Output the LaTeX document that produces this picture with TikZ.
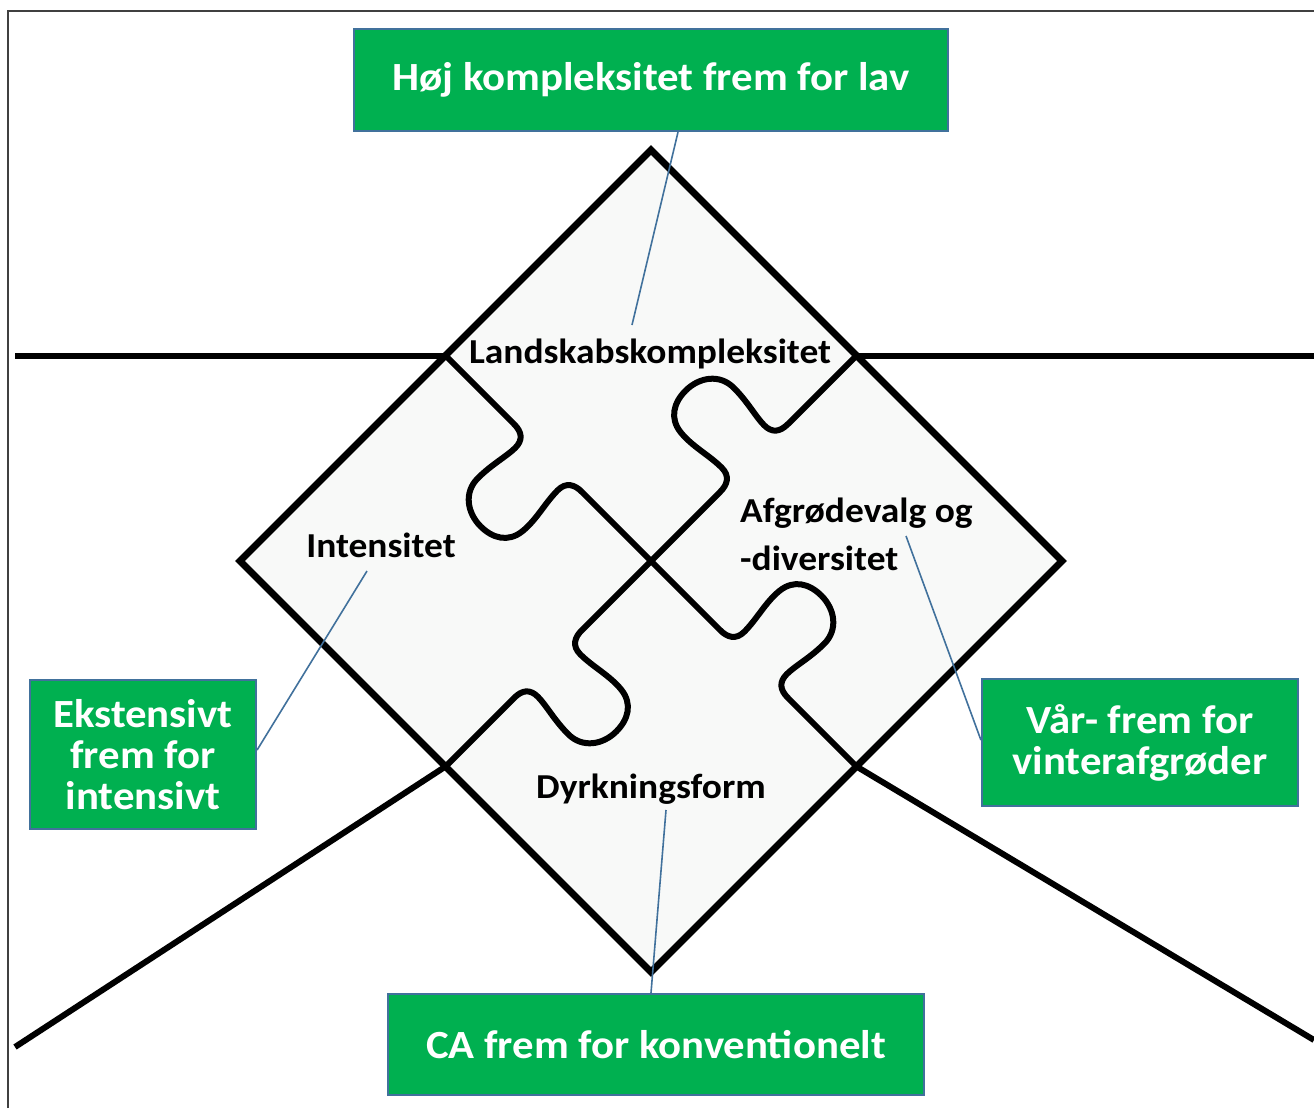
\documentclass[tikz,border=0pt]{standalone}
\usepackage{fontspec}
\setmainfont{Carlito}[FakeStretch=1.07]
\usetikzlibrary{calc}
\definecolor{boxgreen}{HTML}{00B050}
\definecolor{boxblue}{HTML}{41719C}
\definecolor{piecefill}{HTML}{F8F9F8}
\newcommand\seamhalf[1]{%
  \begin{scope}[shift={(C)},rotate=#1]
    \draw[seam] (0,0) -- (98,0) .. controls (108,0) and (116,4) .. (116,16)
      .. controls (116,34) and (110,52) .. (112,70)
      .. controls (114,88) and (128,96) .. (145,96)
      .. controls (164,96) and (181,84) .. (181,64)
      .. controls (181,44) and (176,28) .. (176,16)
      .. controls (176,5) and (182,0) .. (194,0)
      -- (291,0);
  \end{scope}}
\begin{document}
\begin{tikzpicture}[x=1pt,y=1pt,
  thickline/.style={line width=6pt},
  seam/.style={line width=6pt, line join=round, line cap=round},
  greenbox/.style={draw=boxblue, line width=2.2pt, fill=boxgreen, text=white,
    font=\fontsize{40}{41}\selectfont\bfseries, align=center, inner sep=0pt},
  conn/.style={draw=boxblue, line width=1.6pt},
  plabel/.style={font=\fontsize{35}{48}\selectfont\bfseries, inner sep=0pt}]
\useasboundingbox (0,0) rectangle (1314,-1108);
\fill[white] (0,0) rectangle (1314,-1108);
% frame
\draw[line width=2pt, black!75] (8,-1108) -- (8,-11) -- (1314,-11);
% diamond geometry
\coordinate (C) at (651,-561);
\coordinate (T) at (651,-150);
\coordinate (R) at (1062,-561);
\coordinate (B) at (651,-972);
\coordinate (L) at (240,-561);
\coordinate (UL) at (445.5,-355.5);
\coordinate (UR) at (856.5,-355.5);
\coordinate (LL) at (445.5,-766.5);
\coordinate (LR) at (856.5,-766.5);
\coordinate (e1) at (15,-355.5);
\coordinate (e2) at (1314,-355.5);
\coordinate (e3) at (15,-1047);
\coordinate (e4) at (1314,-1040);
% outer lines
\draw[thickline] (e1) -- (UL);
\draw[thickline] (UR) -- (e2);
\draw[thickline] (LL) -- (e3);
\draw[thickline] (LR) -- (e4);
% diamond
\filldraw[fill=piecefill, line width=7pt, line join=miter] (T) -- (R) -- (B) -- (L) -- cycle;
% seams
\seamhalf{45}
\seamhalf{-45}
\seamhalf{-135}
\seamhalf{135}
% labels
\node[plabel, anchor=base] (land) at (650,-363) {Landskabskompleksitet};
\node[plabel, anchor=base] (inten) at (381,-557) {Intensitet};
\node[plabel, anchor=base west, align=left] (afgr) at (740,-570) {Afgrødevalg og\\-diversitet};
\node[plabel, anchor=base] (dyrk) at (651,-798) {Dyrkningsform};
% boxes
\coordinate (k1) at (632,-325);
\coordinate (k2) at (367,-571);
\coordinate (k3) at (906,-536);
\coordinate (k4) at (666,-810);
\node[greenbox, minimum width=594pt, minimum height=102pt] (topbox) at (651,-80) {Høj kompleksitet frem for lav};
\node[greenbox, minimum width=226pt, minimum height=149pt] (leftbox) at (143,-754.5) {Ekstensivt\\frem for\\intensivt};
\node[greenbox, minimum width=316pt, minimum height=127pt] (rightbox) at (1140,-742.5) {Vår- frem for\\vinterafgrøder};
\node[greenbox, minimum width=536pt, minimum height=101pt] (botbox) at (656,-1044.5) {CA frem for konventionelt};
% connectors
\draw[conn] (k1) -- ([xshift=27pt]topbox.south);
\draw[conn] (k2) -- ([yshift=4.5pt]leftbox.east);
\draw[conn] (k3) -- ([yshift=2.5pt]rightbox.west);
\draw[conn] (k4) -- ([xshift=-5pt]botbox.north);
\end{tikzpicture}
\end{document}
